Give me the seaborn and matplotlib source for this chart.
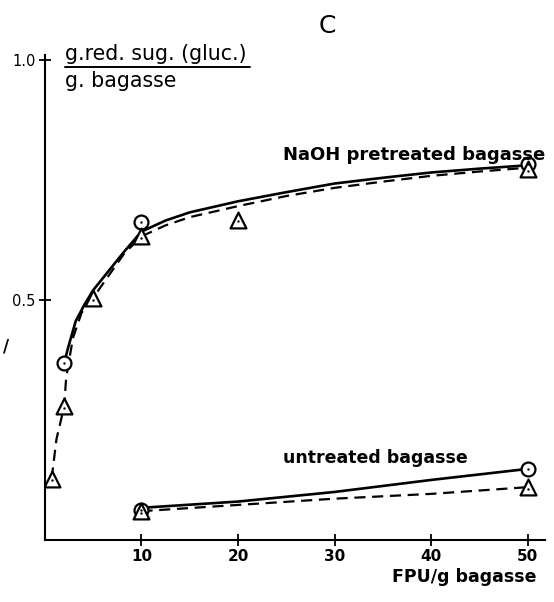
import matplotlib
matplotlib.use("Agg")
import matplotlib.pyplot as plt
import seaborn as sns

# measured points (FPU/g bagasse vs g red. sugar / g bagasse)
naoh_circle_x = [2, 10, 50]
naoh_circle_y = [0.368, 0.661, 0.782]
naoh_tri_x = [0.7, 2, 5, 10, 20, 50]
naoh_tri_y = [0.128, 0.278, 0.504, 0.632, 0.667, 0.772]
untr_circle_x = [10, 50]
untr_circle_y = [0.062, 0.148]
untr_tri_x = [10, 50]
untr_tri_y = [0.06, 0.11]

# hand-drawn curves
naoh_solid_x = [2, 2.4, 3.2, 4.1, 5, 6.6, 8.2, 10, 12.5, 15, 20, 25, 30, 35, 40, 45, 50]
naoh_solid_y = [0.368, 0.40, 0.456, 0.49, 0.52, 0.56, 0.60, 0.642, 0.665, 0.682, 0.705,
                0.724, 0.742, 0.754, 0.765, 0.773, 0.78]
naoh_dash_x = [0.7, 1.2, 2, 2.2, 2.9, 3.8, 5, 6, 8.2, 10, 12.5, 15, 20, 25, 30, 35, 40, 45, 50]
naoh_dash_y = [0.128, 0.21, 0.278, 0.337, 0.42, 0.473, 0.504, 0.533, 0.596, 0.632, 0.655,
               0.672, 0.695, 0.716, 0.733, 0.746, 0.758, 0.767, 0.775]
untr_solid_x = [10, 20, 30, 40, 50]
untr_solid_y = [0.067, 0.08, 0.10, 0.125, 0.148]
untr_dash_x = [10, 20, 30, 40, 50]
untr_dash_y = [0.06, 0.073, 0.086, 0.096, 0.11]

xticks = [10, 20, 30, 40, 50]
xticklabels = ["10", "20", "30", "40", "50"]
yticks = [0.5, 1.0]
yticklabels = ["0.5", "1.0"]

sns.set_style("white")
plt.rcParams["font.family"] = ["DejaVu Sans"]
plt.rcParams["text.color"] = "black"

fig = plt.figure(figsize=(5.54, 6.02), dpi=100)
ax = fig.add_axes([0.081, 0.103, 0.903, 0.806])

sns.lineplot(x=naoh_solid_x, y=naoh_solid_y, ax=ax, color="black", lw=1.9)
sns.lineplot(x=naoh_dash_x, y=naoh_dash_y, ax=ax, color="black", lw=1.6)
ax.lines[-1].set_dashes([5, 3])
sns.lineplot(x=untr_solid_x, y=untr_solid_y, ax=ax, color="black", lw=1.9)
sns.lineplot(x=untr_dash_x, y=untr_dash_y, ax=ax, color="black", lw=1.6)
ax.lines[-1].set_dashes([5, 3])
for ln in ax.lines:
    ln.set_solid_joinstyle("round")
    ln.set_dash_joinstyle("round")

for xs, ys, m in [(naoh_circle_x, naoh_circle_y, "o"), (naoh_tri_x, naoh_tri_y, "^"),
                  (untr_circle_x, untr_circle_y, "o"), (untr_tri_x, untr_tri_y, "^")]:
    sns.scatterplot(x=xs, y=ys, ax=ax, marker=m, s=100 if m == "o" else 130,
                    facecolor="white", edgecolor="black", linewidth=1.6, zorder=5)
    sns.scatterplot(x=xs, y=[v - (0.004 if m == "^" else 0) for v in ys], ax=ax,
                    marker="o", s=3, color="black", linewidth=0, zorder=6)

ax.set_xlim(0, 51.8)
ax.set_ylim(0, 1.01)
ax.set_xticks(xticks)
ax.set_xticklabels(xticklabels, fontsize=11, fontweight="bold")
ax.set_yticks(yticks)
ax.set_yticklabels(yticklabels, fontsize=10.5)
ax.tick_params(axis="both", which="both", bottom=True, left=True, direction="inout",
               length=9, width=1.3, color="black", labelcolor="black", pad=2)
for s in ["top", "right"]:
    ax.spines[s].set_visible(False)
for s in ["left", "bottom"]:
    ax.spines[s].set_color("black")
    ax.spines[s].set_linewidth(1.5)
ax.set_xlabel("")
ax.set_ylabel("")

fig.text(0.118, 0.900, "g.red. sug. (gluc.)", fontsize=14.8, ha="left", va="baseline")
fig.add_artist(plt.Line2D([0.117, 0.452], [0.888, 0.888], color="black", lw=1.4))
fig.text(0.118, 0.856, "g. bagasse", fontsize=14.8, ha="left", va="baseline")
fig.text(0.59, 0.957, "C", fontsize=18, ha="center", va="center")
fig.text(0.511, 0.742, "NaOH pretreated bagasse", fontsize=13, ha="left", va="center",
         fontweight="bold")
fig.text(0.511, 0.239, "untreated bagasse", fontsize=12.5, ha="left", va="center",
         fontweight="bold")
fig.text(0.707, 0.041, "FPU/g bagasse", fontsize=12.5, ha="left", va="center", fontweight="bold")
fig.text(0.005, 0.425, "/", fontsize=12, ha="left", va="center", fontweight="bold")

fig.savefig("out.png", dpi=100)
